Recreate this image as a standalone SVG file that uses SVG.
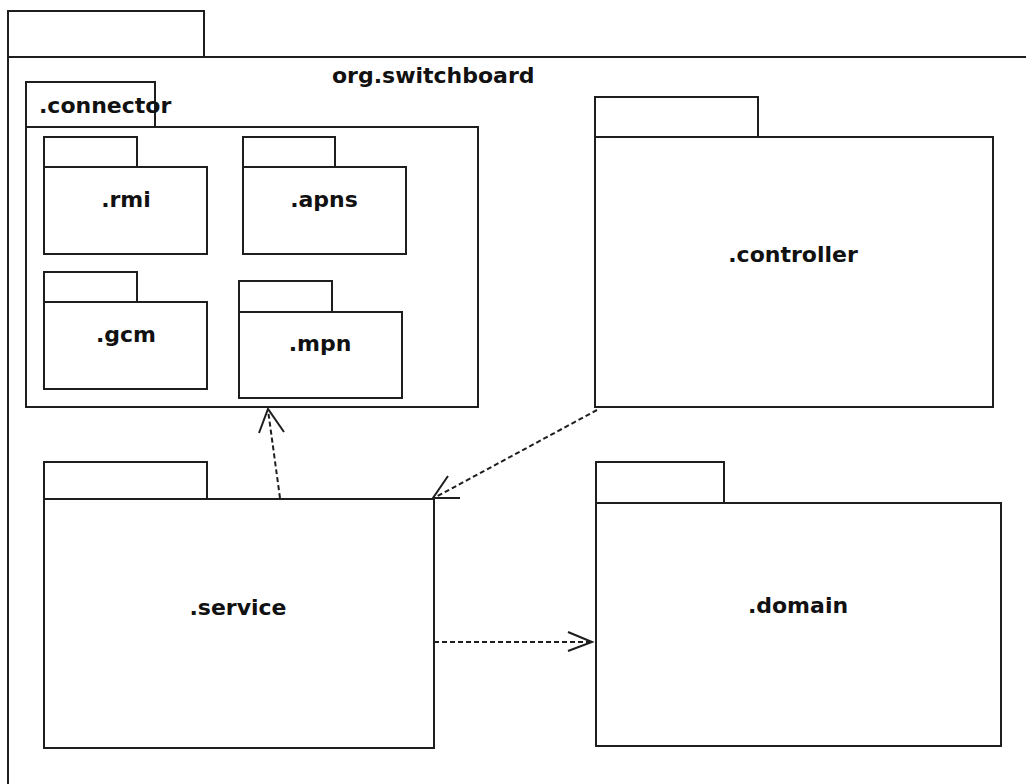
<svg xmlns="http://www.w3.org/2000/svg" width="1026" height="784" viewBox="0 0 1026 784">
  <style>
    .pkg { fill: #ffffff; stroke: #1e1e1e; stroke-width: 2; }
    .lbl { font-family: "DejaVu Sans", "Liberation Sans", sans-serif; font-weight: bold; font-size: 22px; fill: #111111; }
    .mid { text-anchor: middle; }
    .dep { fill: none; stroke: #1e1e1e; stroke-width: 2; stroke-dasharray: 5 3; }
    .head { fill: none; stroke: #1e1e1e; stroke-width: 2; }
  </style>
  <rect width="1026" height="784" fill="#ffffff"/>

  <!-- outer package -->
  <g id="org-switchboard">
    <rect class="pkg" x="8" y="11" width="196" height="46"/>
    <rect class="pkg" x="8" y="57" width="1040" height="760"/>
    <text class="lbl" x="332" y="83">org.switchboard</text>
  </g>

  <!-- connector package with its sub packages -->
  <g id="connector">
    <rect class="pkg" x="26" y="82" width="129" height="45"/>
    <rect class="pkg" x="26" y="127" width="452" height="280"/>
    <text class="lbl" x="39" y="113">.connector</text>
  </g>
  <g id="rmi">
    <rect class="pkg" x="44" y="137" width="93" height="30"/>
    <rect class="pkg" x="44" y="167" width="163" height="87"/>
    <text class="lbl mid" x="126" y="207">.rmi</text>
  </g>
  <g id="apns">
    <rect class="pkg" x="243" y="137" width="92" height="30"/>
    <rect class="pkg" x="243" y="167" width="163" height="87"/>
    <text class="lbl mid" x="324" y="207">.apns</text>
  </g>
  <g id="gcm">
    <rect class="pkg" x="44" y="272" width="93" height="30"/>
    <rect class="pkg" x="44" y="302" width="163" height="87"/>
    <text class="lbl mid" x="126" y="342">.gcm</text>
  </g>
  <g id="mpn">
    <rect class="pkg" x="239" y="281" width="93" height="31"/>
    <rect class="pkg" x="239" y="312" width="163" height="86"/>
    <text class="lbl mid" x="320" y="351">.mpn</text>
  </g>

  <!-- controller -->
  <g id="controller">
    <rect class="pkg" x="595" y="97" width="163" height="40"/>
    <rect class="pkg" x="595" y="137" width="398" height="270"/>
    <text class="lbl mid" x="793" y="262">.controller</text>
  </g>

  <!-- service -->
  <g id="service">
    <rect class="pkg" x="44" y="462" width="163" height="37"/>
    <rect class="pkg" x="44" y="499" width="390" height="249"/>
    <text class="lbl mid" x="238" y="615">.service</text>
  </g>

  <!-- domain -->
  <g id="domain">
    <rect class="pkg" x="596" y="462" width="128" height="41"/>
    <rect class="pkg" x="596" y="503" width="405" height="243"/>
    <text class="lbl mid" x="798" y="613">.domain</text>
  </g>

  <!-- dependencies -->
  <g id="connectors">
    <line class="dep" x1="280" y1="498" x2="268" y2="410"/>
    <polyline class="head" points="259,433 268,409 284,432"/>
    <line class="dep" x1="597" y1="410" x2="434" y2="498"/>
    <polyline class="head" points="448,476 433,498 460,498"/>
    <line class="dep" x1="434" y1="642" x2="591" y2="642"/>
    <polyline class="head" points="568,632 592,642 568,651"/>
  </g>
</svg>
